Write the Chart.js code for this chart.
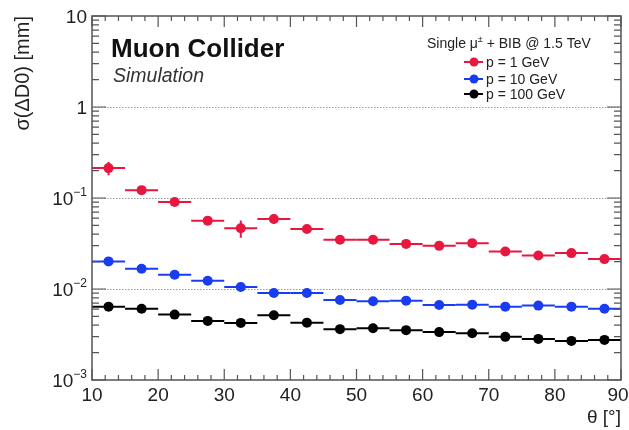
<!DOCTYPE html>
<html>
<head>
<meta charset="utf-8">
<script src="https://cdn.jsdelivr.net/npm/chart.js@4.4.0/dist/chart.umd.min.js"></script>
<style>
  html, body { margin: 0; padding: 0; background: #fff; }
</style>
</head>
<body>
<canvas id="myChart" width="629" height="430"></canvas>
<script>
// theta bin centres [deg], each bin is 5 deg wide
const theta = [12.5, 17.5, 22.5, 27.5, 32.5, 37.5, 42.5, 47.5, 52.5, 57.5, 62.5, 67.5, 72.5, 77.5, 82.5, 87.5];
const binHalfWidth = 2.5;

// sigma(dD0) [mm]
const sigmaP1 = [0.213, 0.122, 0.0904, 0.0564, 0.0466, 0.0589, 0.0457, 0.0347, 0.0347, 0.0313, 0.0298, 0.0319, 0.0258, 0.0233, 0.0248, 0.0213];
const errP1 = [0.035, 0.006, 0.004, 0.003, 0.010, 0.007, 0.003, 0.002, 0.002, 0.002, 0.002, 0.002, 0.0015, 0.0015, 0.0015, 0.0015];

const sigmaP10 = [0.0201, 0.0167, 0.01435, 0.0123, 0.0105, 0.00904, 0.00904, 0.00758, 0.00733, 0.00745, 0.00668, 0.00673, 0.0064, 0.00657, 0.0064, 0.00608];
const errP10 = [0.0005, 0.0004, 0.0003, 0.0003, 0.0003, 0.0002, 0.0002, 0.0002, 0.0002, 0.0002, 0.0002, 0.0002, 0.0002, 0.0002, 0.0002, 0.0002];

const sigmaP100 = [0.0064, 0.00608, 0.00523, 0.00446, 0.00424, 0.00515, 0.00427, 0.00362, 0.0037, 0.00353, 0.00336, 0.00327, 0.00298, 0.00283, 0.00269, 0.00276];
const errP100 = [0.0002, 0.0002, 0.00015, 0.00015, 0.00015, 0.00015, 0.00015, 0.0001, 0.0001, 0.0001, 0.0001, 0.0001, 0.0001, 0.0001, 0.0001, 0.0001];

const seriesLabels = ['p = 1 GeV', 'p = 10 GeV', 'p = 100 GeV'];
const seriesColors = ['#e8173f', '#1a3cf0', '#000000'];

// tick labels
const xTicks = [10, 20, 30, 40, 50, 60, 70, 80, 90];
const yDecades = [0.001, 0.01, 0.1, 1, 10];
const yTickBase = ['10', '10', '10', '1', '10'];
const yTickExp = ['\u22123', '\u22122', '\u22121', '', ''];

const FONT = "'Liberation Sans', Arial, sans-serif";

function toPoints(vals) {
    return theta.map((t, i) => ({ x: t, y: vals[i] }));
}

const allErr = [errP1, errP10, errP100];
const allVals = [sigmaP1, sigmaP10, sigmaP100];

const rootStyle = {
    id: 'rootStyle',
    beforeDatasetsDraw(chart) {
        const ctx = chart.ctx;
        const xs = chart.scales.x, ys = chart.scales.y;
        const a = chart.chartArea;
        ctx.save();
        // dotted grid at decades
        ctx.strokeStyle = '#999';
        ctx.lineWidth = 1;
        ctx.setLineDash([1.5, 1.5]);
        [0.01, 0.1, 1].forEach(v => {
            const y = Math.round(ys.getPixelForValue(v)) + 0.5;
            ctx.beginPath();
            ctx.moveTo(a.left, y);
            ctx.lineTo(a.right, y);
            ctx.stroke();
        });
        ctx.setLineDash([]);
        // error bars
        ctx.lineWidth = 2;
        allVals.forEach((vals, k) => {
            ctx.strokeStyle = seriesColors[k];
            vals.forEach((v, i) => {
                const y = ys.getPixelForValue(v);
                ctx.beginPath();
                ctx.moveTo(xs.getPixelForValue(theta[i] - binHalfWidth), y);
                ctx.lineTo(xs.getPixelForValue(theta[i] + binHalfWidth), y);
                const xc = xs.getPixelForValue(theta[i]);
                ctx.moveTo(xc, ys.getPixelForValue(v - allErr[k][i]));
                ctx.lineTo(xc, ys.getPixelForValue(v + allErr[k][i]));
                ctx.stroke();
            });
        });
        ctx.restore();
    },
    afterDraw(chart) {
        const ctx = chart.ctx;
        const xs = chart.scales.x, ys = chart.scales.y;
        const a = chart.chartArea;
        ctx.save();
        ctx.strokeStyle = '#555';
        ctx.lineWidth = 1.5;
        ctx.strokeRect(a.left, a.top, a.right - a.left, a.bottom - a.top);

        // x ticks, inside, bottom and top
        ctx.lineWidth = 1.2;
        ctx.beginPath();
        for (let v = 10; v <= 90; v += 2) {
            const x = xs.getPixelForValue(v);
            const len = (v % 10 === 0) ? 11 : 5;
            ctx.moveTo(x, a.bottom); ctx.lineTo(x, a.bottom - len);
            ctx.moveTo(x, a.top); ctx.lineTo(x, a.top + len);
        }
        // y ticks, log, left and right
        for (let d = 0; d < yDecades.length; d++) {
            const dec = yDecades[d];
            for (let m = 1; m <= 9; m++) {
                const v = dec * m;
                if (v > 10) break;
                const y = ys.getPixelForValue(v);
                const len = (m === 1) ? 14 : 7;
                ctx.moveTo(a.left, y); ctx.lineTo(a.left + len, y);
                ctx.moveTo(a.right, y); ctx.lineTo(a.right - len, y);
            }
        }
        ctx.stroke();

        // x tick labels
        ctx.fillStyle = '#222';
        ctx.font = '19px ' + FONT;
        ctx.textAlign = 'center';
        ctx.textBaseline = 'middle';
        xTicks.forEach(v => {
            let x = xs.getPixelForValue(v);
            if (v === 90) x -= 3;
            ctx.fillText(String(v), x, 396);
        });

        // y tick labels with superscript exponents
        ctx.textBaseline = 'alphabetic';
        yDecades.forEach((v, i) => {
            const y = ys.getPixelForValue(v);
            const right = a.left - 5;
            ctx.font = '12px ' + FONT;
            const ew = yTickExp[i] ? ctx.measureText(yTickExp[i]).width : 0;
            ctx.textAlign = 'right';
            if (yTickExp[i]) ctx.fillText(yTickExp[i], right, y - 2);
            ctx.font = '19px ' + FONT;
            ctx.fillText(yTickBase[i], right - ew, y + 7);
        });

        // axis titles
        ctx.font = '19px ' + FONT;
        ctx.fillStyle = '#222';
        ctx.textAlign = 'right';
        ctx.textBaseline = 'alphabetic';
        ctx.fillText('\u03b8 [\u00b0]', a.right, 423);
        ctx.save();
        ctx.translate(29, a.top);
        ctx.rotate(-Math.PI / 2);
        ctx.font = '20px ' + FONT;
        ctx.textAlign = 'right';
        ctx.fillText('\u03c3(\u0394D0) [mm]', 0, 0);
        ctx.restore();

        // experiment label
        ctx.textAlign = 'left';
        ctx.fillStyle = '#111';
        ctx.font = 'bold 26px ' + FONT;
        ctx.fillText('Muon Collider', 111, 57);
        ctx.font = 'italic 19.5px ' + FONT;
        ctx.fillStyle = '#333';
        ctx.fillText('Simulation', 113, 82);

        // legend
        ctx.fillStyle = '#222';
        ctx.font = '14px ' + FONT;
        let tx = 427;
        const ty = 48;
        ctx.fillText('Single \u03bc', tx, ty);
        tx += ctx.measureText('Single \u03bc').width;
        ctx.font = '9px ' + FONT;
        ctx.fillText('\u00b1', tx, ty - 6);
        tx += ctx.measureText('\u00b1').width;
        ctx.font = '14px ' + FONT;
        ctx.fillText(' + BIB @ 1.5 TeV', tx, ty);

        const legendY = [62, 79, 94];
        seriesLabels.forEach((lab, k) => {
            const y = legendY[k];
            ctx.strokeStyle = seriesColors[k];
            ctx.fillStyle = seriesColors[k];
            ctx.lineWidth = 2;
            ctx.beginPath();
            ctx.moveTo(464, y); ctx.lineTo(483, y);
            ctx.stroke();
            ctx.beginPath();
            ctx.arc(474, y, 4.5, 0, Math.PI * 2);
            ctx.fill();
            ctx.fillStyle = '#222';
            ctx.textBaseline = 'middle';
            ctx.fillText(lab, 486, y + 1);
            ctx.textBaseline = 'alphabetic';
        });
        ctx.restore();
    }
};

let ctx = document.getElementById('myChart').getContext('2d');
let myChart = new Chart(ctx, {
    type: 'scatter',
    data: {
        datasets: allVals.map((vals, k) => ({
            label: seriesLabels[k],
            data: toPoints(vals),
            backgroundColor: seriesColors[k],
            borderColor: seriesColors[k],
            pointRadius: 5,
            pointHoverRadius: 5,
            borderWidth: 0,
            showLine: false
        }))
    },
    options: {
        responsive: false,
        animation: false,
        devicePixelRatio: 1,
        layout: { padding: { top: 16, right: 8, left: 0, bottom: 0 } },
        plugins: { legend: { display: false }, tooltip: { enabled: false } },
        scales: {
            x: {
                type: 'linear',
                min: 10,
                max: 90,
                afterFit: s => { s.height = 50; s.paddingLeft = 0; s.paddingRight = 0; },
                ticks: { display: false },
                grid: { display: false, drawTicks: false },
                border: { display: false }
            },
            y: {
                type: 'logarithmic',
                min: 0.001,
                max: 10,
                afterFit: s => { s.width = 92; s.paddingTop = 0; s.paddingBottom = 0; },
                ticks: { display: false },
                grid: { display: false, drawTicks: false },
                border: { display: false }
            }
        }
    },
    plugins: [rootStyle]
});
</script>
</body>
</html>
